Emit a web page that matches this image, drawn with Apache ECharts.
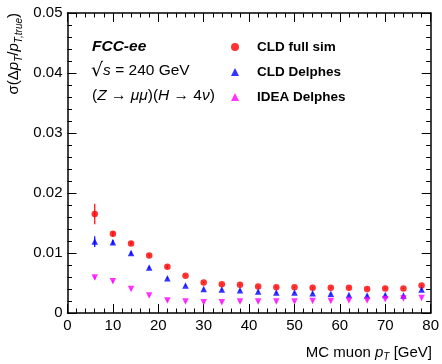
<!DOCTYPE html>
<html>
<head>
<meta charset="utf-8">
<script src="https://cdn.jsdelivr.net/npm/echarts@6/dist/echarts.min.js"></script>
<style>
  html, body { margin: 0; padding: 0; background: #fff; }
  #chart { width: 442px; height: 364px; }
</style>
</head>
<body>
<div id="chart"></div>
<script>
const ptBins = [6, 10, 14, 18, 22, 26, 30, 34, 38, 42, 46, 50, 54, 58, 62, 66, 70, 74, 78];
const cldFullSim = [0.0165, 0.0132, 0.0116, 0.0096, 0.0077, 0.0062, 0.0051, 0.0048, 0.0047, 0.0044, 0.0043, 0.0043, 0.0042, 0.0042, 0.0042, 0.0040, 0.0041, 0.0041, 0.0046];
const cldFullSimErr = [0.0017, 0.0004, 0.0003, 0.0002, 0.0002, 0.0001, 0.0001, 0.0001, 0.0001, 0.0001, 0.0001, 0.0001, 0.0001, 0.0001, 0.0001, 0.0001, 0.0001, 0.0001, 0.0001];
const cldDelphes = [0.0119, 0.0118, 0.0100, 0.0076, 0.0058, 0.0046, 0.0040, 0.0039, 0.0038, 0.0036, 0.0034, 0.0034, 0.0033, 0.0032, 0.0030, 0.0029, 0.0030, 0.0029, 0.0039];
const cldDelphesErr = [0.0009, 0.0004, 0.0003, 0.0002, 0.0001, 0.0001, 0.0001, 0.0001, 0.0001, 0.0001, 0.0001, 0.0001, 0.0001, 0.0001, 0.0001, 0.0001, 0.0001, 0.0001, 0.0001];
const ideaDelphes = [0.0059, 0.0053, 0.0040, 0.0029, 0.0021, 0.0019, 0.0018, 0.0018, 0.0019, 0.0019, 0.0019, 0.0019, 0.0020, 0.0020, 0.0021, 0.0021, 0.0023, 0.0024, 0.0025];
const ideaDelphesErr = [0.0003, 0.0002, 0.0001, 0.0001, 0.0001, 0.0001, 0.0001, 0.0001, 0.0001, 0.0001, 0.0001, 0.0001, 0.0001, 0.0001, 0.0001, 0.0001, 0.0001, 0.0001, 0.0001];
const xTicks = [0, 80, 10];
const yTicks = [0, 0.05, 0.01];

const FONT = 'Liberation Sans, Arial, sans-serif';
const chart = echarts.init(document.getElementById('chart'), null, { renderer: 'canvas' });

const pairs = (ys) => ptBins.map((x, i) => [x, ys[i]]);
const errBars = (ys, errs, color) => ({
  type: 'custom',
  silent: true,
  z: 1,
  data: ptBins.map((x, i) => [x, ys[i] - errs[i], ys[i] + errs[i]]),
  renderItem: (params, api) => {
    const lo = api.coord([api.value(0), api.value(1)]);
    const hi = api.coord([api.value(0), api.value(2)]);
    return { type: 'line', shape: { x1: lo[0], y1: lo[1], x2: hi[0], y2: hi[1] }, style: { stroke: color, lineWidth: 1.2 } };
  }
});

const tickCommon = {
  axisLine: { show: true, onZero: false, lineStyle: { color: '#000', width: 1.5 } },
  axisTick: { show: true, inside: true, length: 9, lineStyle: { color: '#000', width: 1 } },
  minorTick: { show: true, splitNumber: 5, length: 4.5, lineStyle: { color: '#000', width: 1 } },
  splitLine: { show: false }
};

// italic sub/superscript helpers for the axis titles
const titleRich = {
  i: { fontStyle: 'italic', fontSize: 15, fontFamily: FONT, lineHeight: 20 },
  s: { fontStyle: 'italic', fontSize: 10, fontFamily: FONT, verticalAlign: 'bottom', lineHeight: 12 }
};

chart.setOption({
  animation: false,
  backgroundColor: '#fff',
  grid: { left: 67.5, right: 11, top: 13, bottom: 51, containLabel: false },
  xAxis: [
    Object.assign({ type: 'value', min: xTicks[0], max: xTicks[1], interval: xTicks[2], position: 'bottom',
      axisLabel: { color: '#000', fontSize: 15, fontFamily: FONT, margin: 5 } }, tickCommon),
    Object.assign({ type: 'value', min: xTicks[0], max: xTicks[1], interval: xTicks[2], position: 'top',
      axisLabel: { show: false } }, tickCommon)
  ],
  yAxis: [
    Object.assign({ type: 'value', min: yTicks[0], max: yTicks[1], interval: yTicks[2], position: 'left',
      axisLabel: { color: '#000', fontSize: 15, fontFamily: FONT, margin: 5 } }, tickCommon),
    Object.assign({ type: 'value', min: yTicks[0], max: yTicks[1], interval: yTicks[2], position: 'right',
      axisLabel: { show: false } }, tickCommon)
  ],
  legend: {
    orient: 'vertical',
    left: 226,
    top: 34.5,
    itemWidth: 8,
    itemHeight: 8,
    itemGap: 10,
    textStyle: { color: '#000', fontSize: 13.5, fontWeight: 'bold', fontFamily: FONT, lineHeight: 15, padding: [0, 0, 0, 13] },
    data: ['CLD full sim', 'CLD Delphes', 'IDEA Delphes']
  },
  series: [
    errBars(cldFullSim, cldFullSimErr, '#ff0000'),
    errBars(cldDelphes, cldDelphesErr, '#0000ff'),
    errBars(ideaDelphes, ideaDelphesErr, '#ff00ff'),
    { name: 'CLD full sim', type: 'scatter', symbol: 'circle', symbolSize: 6.5, z: 3,
      itemStyle: { color: '#ff0000' }, data: pairs(cldFullSim) },
    { name: 'CLD Delphes', type: 'scatter', symbol: 'triangle', symbolSize: 6.5, z: 3,
      itemStyle: { color: '#0000ff' }, data: pairs(cldDelphes) },
    { name: 'IDEA Delphes', type: 'scatter', symbol: 'triangle', symbolRotate: 180, symbolSize: 6.5, z: 3,
      itemStyle: { color: '#ff00ff' }, data: pairs(ideaDelphes) }
  ],
  graphic: [
    { type: 'text', left: 92, top: 38.5, style: { text: 'FCC-ee', font: 'italic bold 15.5px ' + FONT, fill: '#000' } },
    { type: 'text', left: 91, top: 61.5, style: {
      text: '{r|√}{i|s} = 240 GeV', font: '15.5px ' + FONT, fill: '#000',
      rich: { r: { fontSize: 19, fontFamily: 'DejaVu Sans', lineHeight: 20 },
              i: { fontStyle: 'italic', fontSize: 15.5, fontFamily: FONT, lineHeight: 20 } } } },
    { type: 'text', left: 92, top: 87.5, style: {
      text: '({i|Z} → {i|μμ})({i|H} → 4{i|ν})', font: '15.5px ' + FONT, fill: '#000',
      rich: { i: { fontStyle: 'italic', fontSize: 15.5, fontFamily: FONT } } } },
    { type: 'text', x: 14, y: 13, rotation: Math.PI / 2, style: {
      text: 'σ(Δ{i|p}{s|T}/{i|p}{s|T,true})', font: '15px ' + FONT, fill: '#000',
      align: 'right', verticalAlign: 'middle', rich: titleRich } },
    { type: 'text', right: 10, top: 345, style: {
      text: 'MC muon {i|p}{s|T} [GeV]', font: '15px ' + FONT, fill: '#000', rich: titleRich } }
  ]
});
</script>
</body>
</html>
